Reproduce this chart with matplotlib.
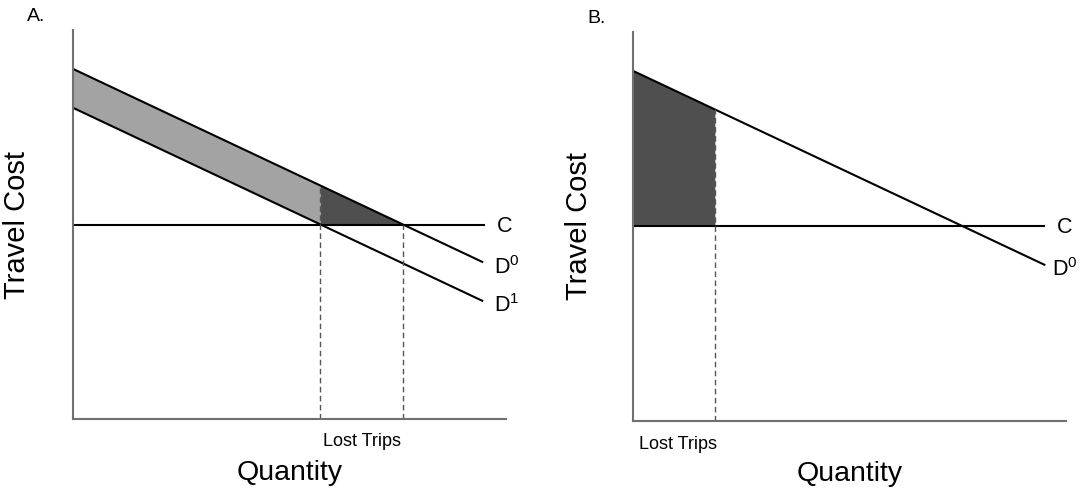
import numpy as np
import matplotlib
matplotlib.use("Agg")
import matplotlib.pyplot as plt

plt.rcParams['font.family'] = ['Liberation Sans', 'DejaVu Sans']
plt.rcParams['mathtext.default'] = 'regular'

# ---- data (arbitrary quantity / cost units) ----
cost_level = 50.0                      # C
# panel A
a_q = [0.0, 94.5]
a_d0 = [90.0, 40.4]
a_d1 = [80.0, 30.4]
a_lost_q = [57.1, 76.2]                # where D1 and D0 cross C
# panel B
b_q = [0.0, 95.0]
b_d0 = [90.0, 40.1]
b_lost_q = [18.9]

panel_letters = ["A.", "B."]
xlabel = "Quantity"
ylabel = "Travel Cost"
lost_label = "Lost Trips"

W, H = 1086, 491
fig = plt.figure(figsize=(W / 100, H / 100), dpi=100)

def px_axes(left, top, right, bottom):
    return fig.add_axes([left / W, (H - bottom) / H, (right - left) / W, (bottom - top) / H])

axA = px_axes(73, 30, 506, 419)
axB = px_axes(633, 32, 1066, 420.5)

spine_col = '#707070'
light = '#a3a3a3'
dark = '#4f4f4f'
dash_col = '#555555'

for ax in (axA, axB):
    ax.set_xlim(0, 100)
    ax.set_ylim(0, 100)
    for s in ('top', 'right'):
        ax.spines[s].set_visible(False)
    for s in ('left', 'bottom'):
        ax.spines[s].set_color(spine_col)
        ax.spines[s].set_linewidth(1.5)
    ax.set_xticks([])
    ax.set_yticks([])

lab_fs = 15.5

# ---- panel A ----
qa = np.linspace(a_q[0], a_lost_q[0], 50)
axA.fill_between(qa, np.interp(qa, a_q, a_d1), np.interp(qa, a_q, a_d0), color=light, lw=0)
qb = np.linspace(a_lost_q[0], a_lost_q[1], 50)
axA.fill_between(qb, cost_level, np.interp(qb, a_q, a_d0), color=dark, lw=0)
axA.plot(a_q, a_d0, color='black', lw=1.5)
axA.plot(a_q, a_d1, color='black', lw=1.5)
axA.plot([a_q[0], a_q[1] + 0.5], [cost_level, cost_level], color='black', lw=1.5)
axA.plot([a_lost_q[0]] * 2, [0, np.interp(a_lost_q[0], a_q, a_d0)], color=dash_col, lw=1, ls=(0, (4, 2.5)))
axA.plot([a_lost_q[1]] * 2, [0, cost_level], color=dash_col, lw=1, ls=(0, (4, 2.5)))
axA.text(98.0, 48.1, "C", fontsize=lab_fs, ha='left', va='baseline')
axA.text(97.3, 37.3, "D$^0$", fontsize=lab_fs, ha='left', va='baseline')
axA.text(97.3, 27.5, "D$^1$", fontsize=lab_fs, ha='left', va='baseline')
axA.text(sum(a_lost_q) / 2, -7, lost_label, fontsize=13, ha='center', va='baseline')

# ---- panel B ----
qc = np.linspace(b_q[0], b_lost_q[0], 50)
axB.fill_between(qc, cost_level, np.interp(qc, b_q, b_d0), color=dark, lw=0)
axB.plot(b_q, b_d0, color='black', lw=1.5)
axB.plot([b_q[0], b_q[1]], [cost_level, cost_level], color='black', lw=1.5)
axB.plot([b_lost_q[0]] * 2, [0, np.interp(b_lost_q[0], b_q, b_d0)], color=dash_col, lw=1, ls=(0, (4, 2.5)))
axB.text(98.0, 48.3, "C", fontsize=lab_fs, ha='left', va='baseline')
axB.text(96.8, 37.2, "D$^0$", fontsize=lab_fs, ha='left', va='baseline')
axB.text(10.3, -7.3, lost_label, fontsize=13, ha='center', va='baseline')

# ---- labels ----
def ftext(x, y, s, **kw):
    fig.text(x / W, (H - y) / H, s, **kw)

ftext(27, 21, panel_letters[0], fontsize=14, ha='left', va='baseline')
ftext(587, 23, panel_letters[1], fontsize=14, ha='left', va='baseline')
ftext(289.5, 480, xlabel, fontsize=20.5, ha='center', va='baseline')
ftext(849.5, 481, xlabel, fontsize=20.5, ha='center', va='baseline')
ftext(17, 225, ylabel, fontsize=21, ha='center', va='center', rotation=90)
ftext(579, 226, ylabel, fontsize=21, ha='center', va='center', rotation=90)

fig.savefig("out.png", dpi=100)
